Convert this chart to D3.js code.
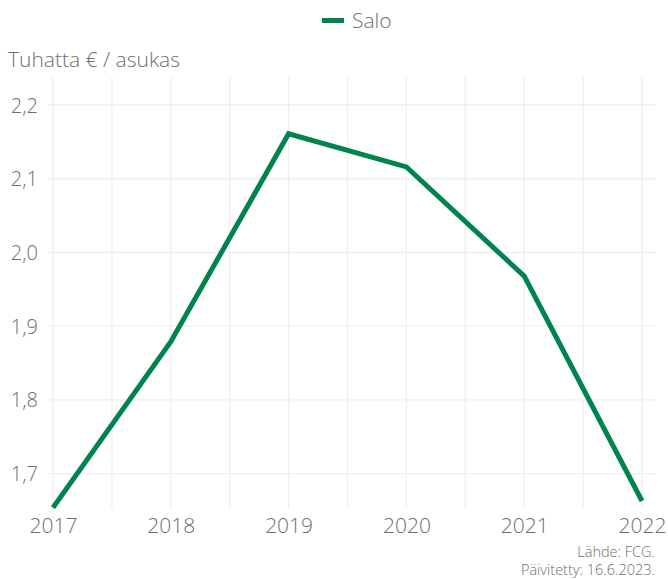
<!DOCTYPE html>
<html>
<head>
<meta charset="utf-8">
<script src="https://cdn.jsdelivr.net/npm/d3@7"></script>
<style>
  html, body { margin: 0; padding: 0; background: #ffffff; }
  svg text { font-family: "Open Sans", "Noto Sans", sans-serif; font-weight: 300; fill: #6e6e6e; }
</style>
</head>
<body>
<svg id="chart" width="668" height="579"></svg>
<script>
// Salo: tuhatta euroa asukasta kohden
const years = [2017, 2018, 2019, 2020, 2021, 2022];
const values = [1.654, 1.879, 2.161, 2.116, 1.968, 1.663];
const yTicks = [1.7, 1.8, 1.9, 2.0, 2.1, 2.2];
const seriesName = "Salo";
const yTitle = "Tuhatta € / asukas";
const sourceLines = ["Lähde: FCG.", "Päivitetty: 16.6.2023."];

const svg = d3.select("#chart");
const lineColor = "#00834d";
const gridColor = "#efefef";

const plot = { left: 48, right: 656, top: 77, bottom: 509 };
const x = d3.scaleLinear().domain([2017, 2022]).range([53, 642]);
const y = d3.scaleLinear().domain([1.7, 2.2]).range([473.7, 105]);

// grid: vertical lines at each year and half-year
const xGrid = d3.range(2017, 2022.01, 0.5);
svg.append("g").selectAll("line").data(xGrid).join("line")
  .attr("x1", d => x(d)).attr("x2", d => x(d))
  .attr("y1", plot.top).attr("y2", plot.bottom)
  .attr("stroke", gridColor).attr("stroke-width", 1.3);

svg.append("g").selectAll("line").data(yTicks).join("line")
  .attr("x1", plot.left).attr("x2", plot.right)
  .attr("y1", d => y(d)).attr("y2", d => y(d))
  .attr("stroke", gridColor).attr("stroke-width", 1.3);

// y axis labels
const fmt = d => d3.format(".1f")(d).replace(".", ",");
const yAxis = d3.axisLeft(y).tickValues(yTicks).tickFormat(fmt).tickSize(0).tickPadding(0);
const gy = svg.append("g").attr("transform", "translate(38,0)").call(yAxis);
gy.select(".domain").remove();
gy.selectAll("text").style("font-size", "20px").attr("fill", "#6e6e6e").attr("dy", "0.35em");

// x axis labels
const xAxis = d3.axisBottom(x).tickValues(years).tickFormat(d3.format("d")).tickSize(0).tickPadding(0);
const gx = svg.append("g").attr("transform", "translate(0,518)").call(xAxis);
gx.select(".domain").remove();
gx.selectAll("text").style("font-size", "21px").attr("fill", "#6e6e6e").attr("dy", "0.71em");

// clip to plot area
svg.append("clipPath").attr("id", "plotclip").append("rect")
  .attr("x", plot.left).attr("y", plot.top)
  .attr("width", plot.right - plot.left).attr("height", plot.bottom - plot.top);

const line = d3.line().x((d, i) => x(years[i])).y(d => y(d));
svg.append("path")
  .datum(values)
  .attr("clip-path", "url(#plotclip)")
  .attr("d", line)
  .attr("fill", "none")
  .attr("stroke", lineColor)
  .attr("stroke-width", 5)
  .attr("stroke-linejoin", "miter");

// y title
svg.append("text").attr("x", 8).attr("y", 67)
  .style("font-size", "21px").text(yTitle);

// legend
const legend = svg.append("g");
legend.append("rect").attr("x", 322).attr("y", 18).attr("width", 22).attr("height", 5).attr("fill", lineColor);
legend.append("text").attr("x", 352).attr("y", 21).attr("dy", "0.35em")
  .style("font-size", "21px").text(seriesName);

// source note
svg.append("g").selectAll("text").data(sourceLines).join("text")
  .attr("x", 655).attr("y", (d, i) => 557 + i * 18)
  .attr("text-anchor", "end")
  .style("font-size", "14.5px")
  .text(d => d);
</script>
</body>
</html>
